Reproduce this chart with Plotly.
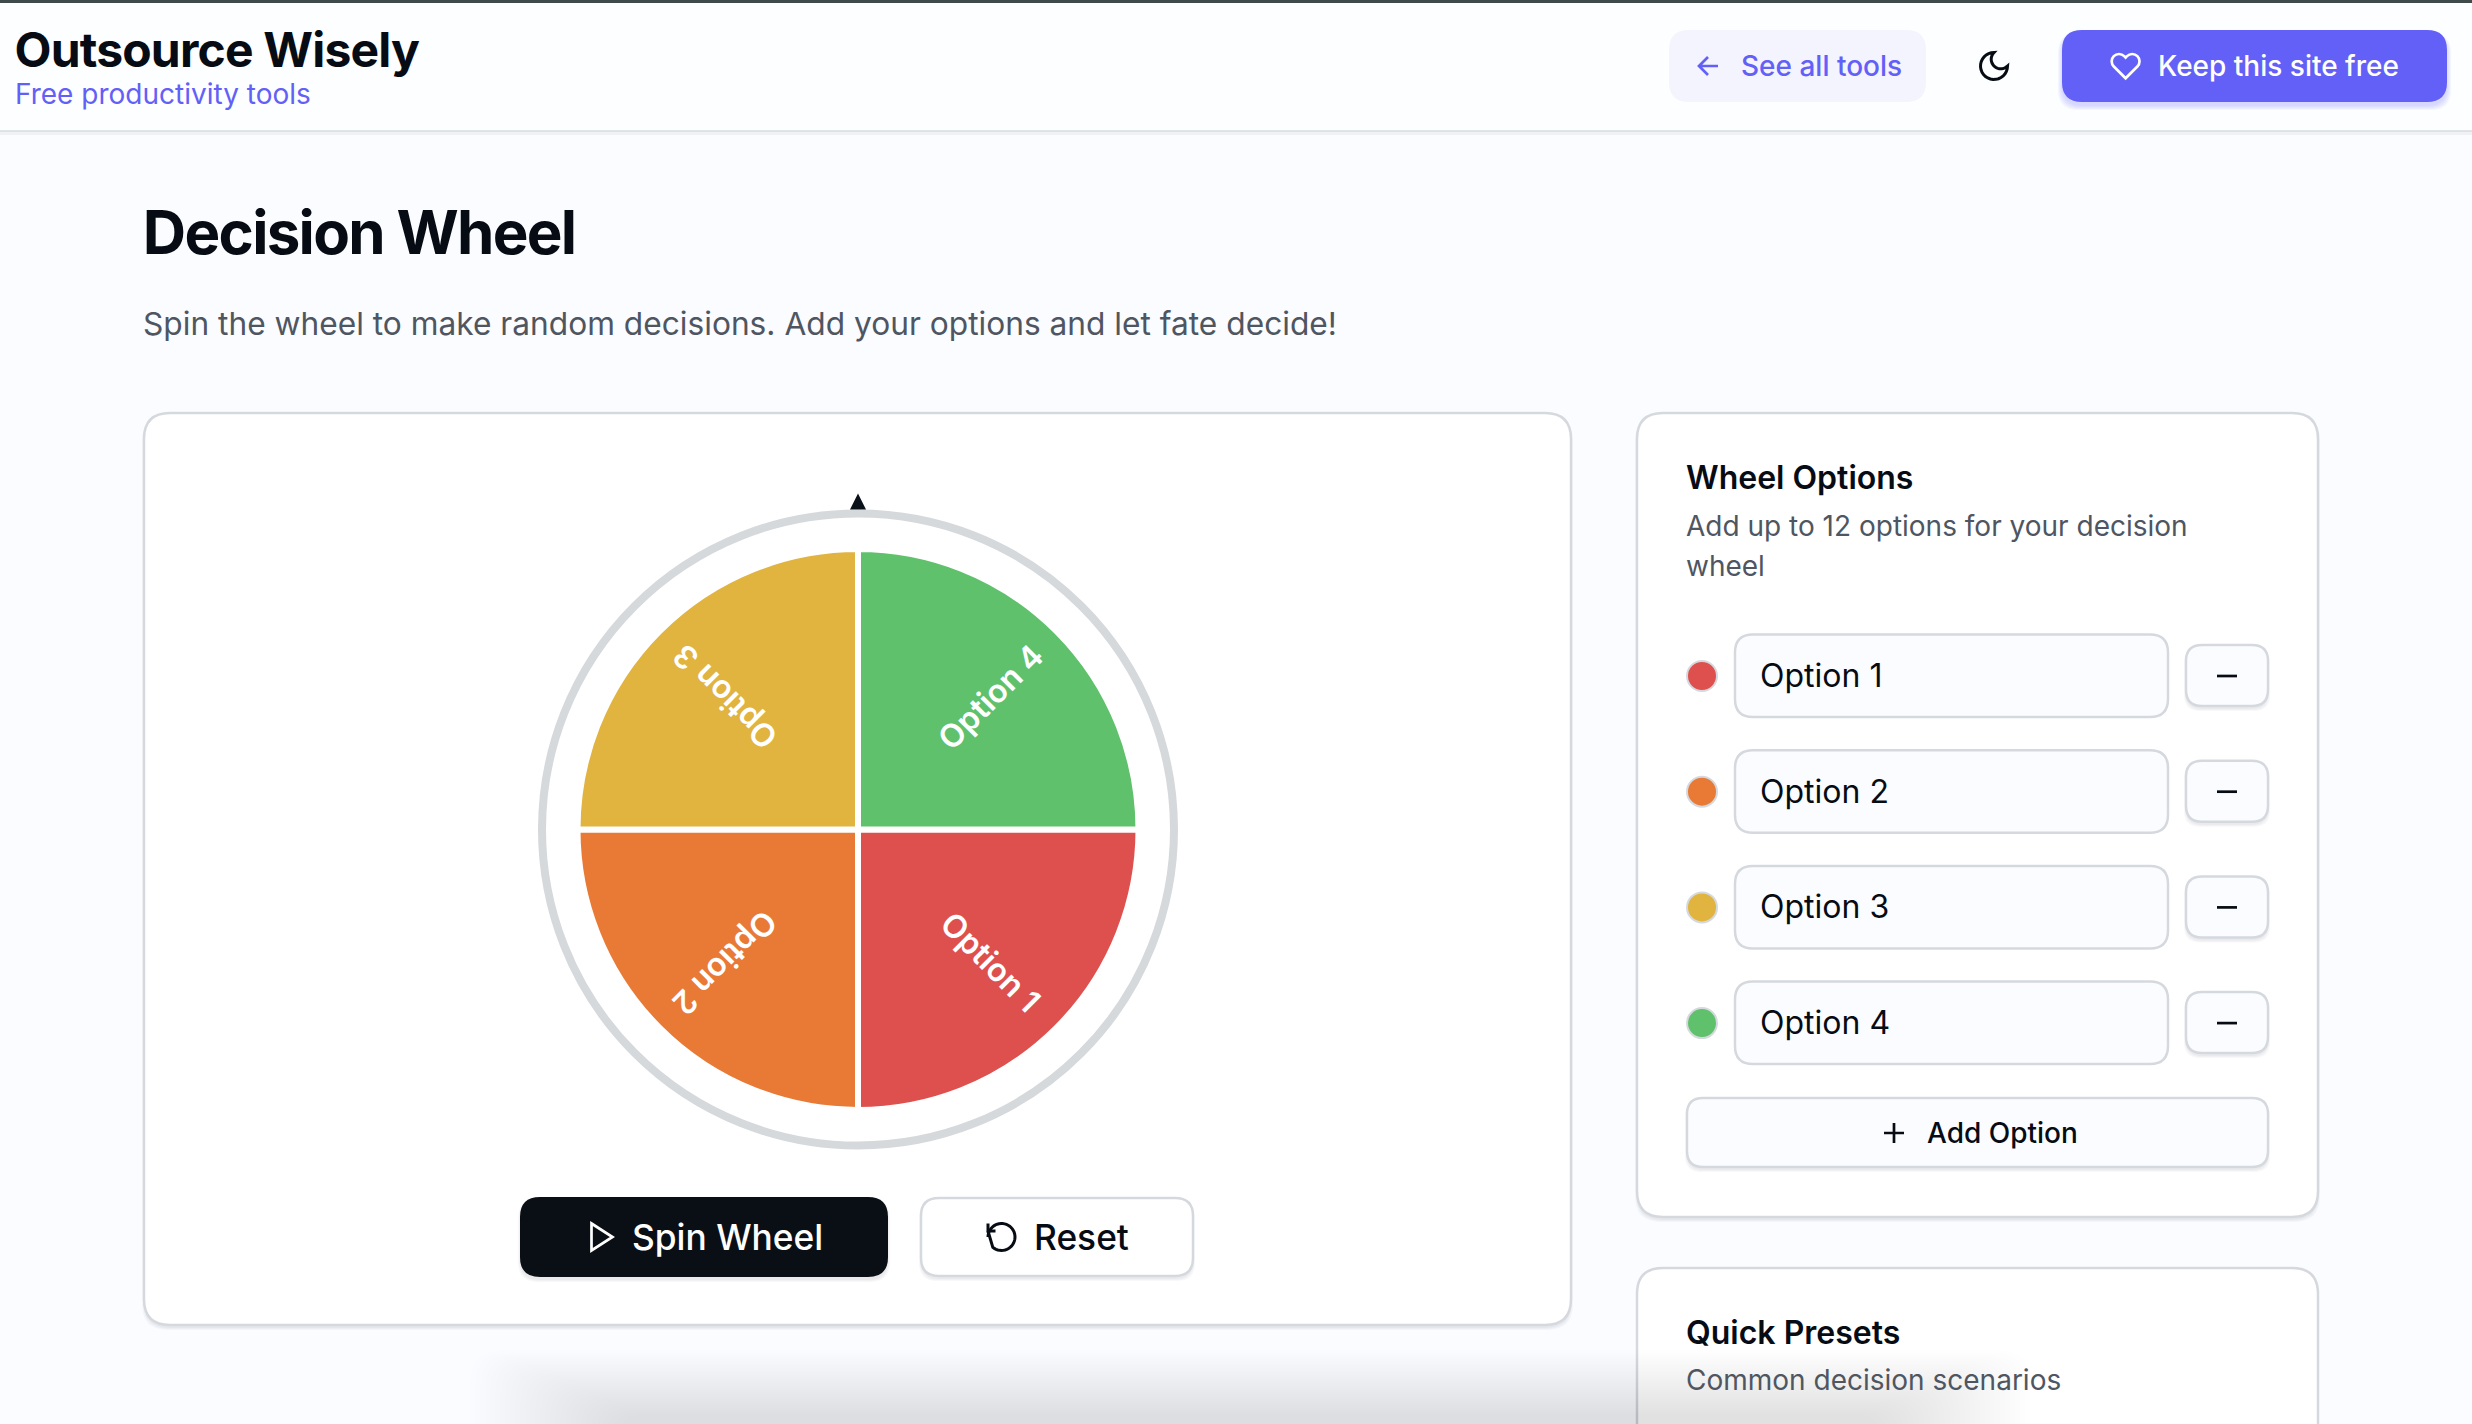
import numpy as np
import plotly.graph_objects as go

# wheel data
option_labels = ["Option 1", "Option 2", "Option 3", "Option 4"]
slice_values = [1, 1, 1, 1]
slice_colors = ["#de504d", "#e87a36", "#e1b33f", "#5fc16b"]

W = 2472
H = 1424
INK = "#070c14"
GREY = "#4f5661"
BORDER = "#d5d9de"
INDIGO = "#6360f7"
PAGE = "#fbfcff"
FONT = "Inter"

# headings in the page are tracked tighter than plotly can set, px per character
tight = {"Outsource Wisely": -0.82, "Decision Wheel": -1.69}

shapes = []
notes = []


def rounded(x0, y0, x1, y1, r):
    return (f"M{x0+r},{y0} L{x1-r},{y0} Q{x1},{y0} {x1},{y0+r} L{x1},{y1-r} Q{x1},{y1} {x1-r},{y1} "
            f"L{x0+r},{y1} Q{x0},{y1} {x0},{y1-r} L{x0},{y0+r} Q{x0},{y0} {x0+r},{y0} Z")


def box(x0, y0, x1, y1, r, fill, line=None, lw=2.5, layer="below", opacity=1):
    shapes.append(dict(type="path", path=rounded(x0, y0, x1, y1, r), xref="x", yref="y",
                       fillcolor=fill, line=dict(color=line or fill, width=lw if line else 0),
                       layer=layer, opacity=opacity))


def soft_shadow(x0, y0, x1, y1, r, drop=2, steps=3, alpha=0.03, color="#1a2233"):
    for i in range(steps):
        g = steps - i
        box(x0 - g + 1, y0 + drop, x1 + g - 1, y1 + drop + g, r, color, opacity=alpha)


def stroke(path, color, width=2.7, fill="rgba(0,0,0,0)"):
    shapes.append(dict(type="path", path=path, xref="x", yref="y", fillcolor=fill,
                       line=dict(color=color, width=width), layer="above"))


def label(x, baseline, text, size, color=INK, weight=400, anchor="left"):
    # annotations anchor on the middle of the text box, so shift up from the baseline
    x = x + tight.get(text, 0) * len(text) / 2
    notes.append(dict(x=x, y=baseline - 0.36 * size, xref="x", yref="y", text=text, showarrow=False,
                      xanchor=anchor, yanchor="middle", borderpad=0, borderwidth=0,
                      font=dict(family=FONT, size=size, color=color, weight=weight)))


def arc(cx, cy, r, a0, a1, n=24):
    t = np.radians(np.linspace(a0, a1, n))
    return [(cx + r * np.cos(v), cy + r * np.sin(v)) for v in t]


def poly(points, close=False):
    s = "M" + " L".join(f"{x:.2f},{y:.2f}" for x, y in points)
    return s + (" Z" if close else "")


# page chrome
shapes.append(dict(type="rect", x0=0, x1=W, y0=131, y1=135, xref="x", yref="y", fillcolor="#1a2233",
                   opacity=0.05, line_width=0, layer="below"))
shapes.append(dict(type="rect", x0=0, x1=W, y0=0, y1=131, xref="x", yref="y", fillcolor="#fcfeff",
                   line_width=0, layer="below"))
shapes.append(dict(type="line", x0=0, x1=W, y0=131, y1=131, xref="x", yref="y",
                   line=dict(color="#d9dde1", width=1.5), layer="below"))
shapes.append(dict(type="rect", x0=0, x1=W, y0=0, y1=3, xref="x", yref="y", fillcolor="#3f4a4a",
                   line_width=0, layer="below"))

label(15, 67, "Outsource Wisely", 48, weight=700)
label(15, 104, "Free productivity tools", 28, INDIGO)

box(1669, 30, 1926, 102, 20, "#f3f4fd")
stroke("M1718,66 L1699,66 M1708,75 L1699,66 L1708,57", INDIGO)
label(1741, 76, "See all tools", 28, INDIGO, 500)

# moon icon, built on the 24 unit icon grid
mx, my, ms = 1994 - 18, 66 - 18, 1.5
moon = arc(12, 12, 9, 0, 270) + arc(16.5, 7.5, 6.36, 225, 45, 24)
stroke(poly([(mx + a * ms, my + b * ms) for a, b in moon], True), INK, 3)

soft_shadow(2062, 30, 2447, 102, 20, drop=3, steps=5, alpha=0.05, color=INDIGO)
box(2062, 30, 2447, 102, 20, INDIGO)
hx, hy, hs = 2125.6 - 16, 66 - 16, 1.333


def hp(a, b):
    return f"{hx + a * hs:.2f},{hy + b * hs:.2f}"


stroke("M" + hp(20.84, 4.61) + " C" + hp(18.69, 2.46) + " " + hp(15.21, 2.46) + " " + hp(13.06, 4.61)
       + " L" + hp(12, 5.67) + " L" + hp(10.94, 4.61) + " C" + hp(8.79, 2.46) + " " + hp(5.31, 2.46) + " " + hp(3.16, 4.61)
       + " C" + hp(1.01, 6.76) + " " + hp(1.01, 10.24) + " " + hp(3.16, 12.39)
       + " L" + hp(12, 21.23) + " L" + hp(20.84, 12.39)
       + " C" + hp(22.99, 10.24) + " " + hp(22.99, 6.76) + " " + hp(20.84, 4.61) + " Z", "#ffffff")
label(2158, 76, "Keep this site free", 28, "#ffffff", 500)

label(143, 254, "Decision Wheel", 60, weight=700)
label(143, 334.5, "Spin the wheel to make random decisions. Add your options and let fate decide!", 31.7, GREY)

# main card
soft_shadow(144, 413, 1571, 1325, 26)
box(144, 413, 1571, 1325, 26, "#ffffff", BORDER)

# wheel frame and pointer
cx, cy = 858, 829.5
shapes.append(dict(type="circle", x0=cx - 316, x1=cx + 316, y0=cy - 316, y1=cy + 316, xref="x", yref="y",
                   fillcolor="#ffffff", line=dict(color="#d5d9dc", width=8), layer="below"))
shapes.append(dict(type="path", path=f"M{cx},{cy-336} L{cx+8},{cy-320} L{cx-8},{cy-320} Z", xref="x", yref="y",
                   fillcolor="#0b1118", line_width=0, layer="below"))

# slice labels sit along each slice's middle angle
start = 0
total = sum(slice_values)
for name, v in zip(option_labels, slice_values):
    mid = (start + v / 2) / total * 360
    start += v
    notes.append(dict(x=cx + 188 * np.cos(np.radians(mid)), y=cy + 188 * np.sin(np.radians(mid)), xref="x", yref="y",
                      text=name, showarrow=False, textangle=mid, borderpad=0,
                      font=dict(family=FONT, size=32, color="#ffffff", weight=600)))

# spin and reset buttons
soft_shadow(520, 1197, 888, 1277, 20)
box(520, 1197, 888, 1277, 20, "#0a0f16")
px, py = 584, 1237 - 18
stroke(poly([(px + a * 1.5, py + b * 1.5) for a, b in [(5, 3), (19, 12), (5, 21)]], True), "#ffffff", 2.7)
label(632, 1250, "Spin Wheel", 35.3, "#ffffff", 500)

soft_shadow(921, 1198, 1193, 1276, 18)
box(921, 1198, 1193, 1276, 18, "#ffffff", BORDER)
rx, ry = 1001.5 - 18, 1237 - 18
rot = arc(12, 12, 9, 180, 180 + 360 - 50, 40)
stroke(poly([(rx + a * 1.5, ry + b * 1.5) for a, b in rot + [(3, 8)]]), INK, 3)
stroke(poly([(rx + a * 1.5, ry + b * 1.5) for a, b in [(3, 3), (3, 8), (8, 8)]]), INK, 3)
label(1034, 1250, "Reset", 35.3, INK, 500)

# wheel options card
soft_shadow(1637, 413, 2318, 1217, 26)
box(1637, 413, 2318, 1217, 26, "#ffffff", BORDER)
label(1686, 489, "Wheel Options", 32, weight=600)
label(1686, 536, "Add up to 12 options for your decision", 28, GREY)
label(1686, 576, "wheel", 28, GREY)

row_y = []
for i, name in enumerate(option_labels):
    mid = 676 + i * 115.7
    row_y.append(mid)
    box(1735, mid - 41.5, 2168, mid + 41, 18, PAGE, BORDER)
    label(1760, mid + 11, name, 32, INK)
    soft_shadow(2186, mid - 31, 2268, mid + 30, 16)
    box(2186, mid - 31, 2268, mid + 30, 16, PAGE, BORDER)
    stroke(f"M2217,{mid:.1f} L2237,{mid:.1f}", INK)

soft_shadow(1687, 1098, 2268, 1167, 16)
box(1687, 1098, 2268, 1167, 16, PAGE, BORDER)
stroke("M1884,1133 L1904,1133 M1894,1123 L1894,1143", INK)
label(1926.5, 1143, "Add Option", 28, INK, 500)

# quick presets card, cut by the bottom of the page
box(1637, 1268, 2318, 1480, 26, "#ffffff", BORDER)
label(1686, 1344, "Quick Presets", 32, weight=600)
label(1686, 1390, "Common decision scenarios", 28, GREY)

# blurred shadow rising from below the page
for i in range(30):
    g = i * 5
    box(470 + g, 1350 + i * 2.2, 2030 - g, 1520, 30, "#3a3f4a", layer="above", opacity=0.0048)

fig = go.Figure()

# scatter keeps the pixel axes alive and draws the option dots
fig.add_trace(go.Scatter(x=[1702] * len(row_y), y=row_y, mode="markers", hoverinfo="skip", showlegend=False,
                         marker=dict(size=30, color=slice_colors, line=dict(color=BORDER, width=2))))

fig.add_trace(go.Pie(labels=option_labels, values=slice_values, sort=False, direction="clockwise", rotation=90,
                     textinfo="none", hoverinfo="label", showlegend=False,
                     marker=dict(colors=slice_colors, line=dict(color="#ffffff", width=6)),
                     domain=dict(x=[(cx - 280.5) / W, (cx + 280.5) / W],
                                 y=[1 - (cy + 280.5) / H, 1 - (cy - 280.5) / H])))

fig.update_layout(
    width=W,
    height=H,
    margin=dict(l=0, r=0, t=0, b=0),
    paper_bgcolor=PAGE,
    plot_bgcolor=PAGE,
    xaxis=dict(range=[0, W], visible=False, fixedrange=True),
    yaxis=dict(range=[H, 0], visible=False, fixedrange=True),
    shapes=shapes,
    annotations=notes,
    showlegend=False,
)

js = """
document.body.style.margin='0';document.body.style.overflow='hidden';
var tight = %s;
function track(){document.querySelectorAll('.annotation-text').forEach(function(t){
  if(tight[t.textContent]) t.style.letterSpacing = tight[t.textContent] + 'px';
});}
track();
document.getElementById('{plot_id}').on('plotly_afterplot', track);
""" % str(tight)

fig.write_html("out.html", config=dict(displayModeBar=False), post_script=js)
